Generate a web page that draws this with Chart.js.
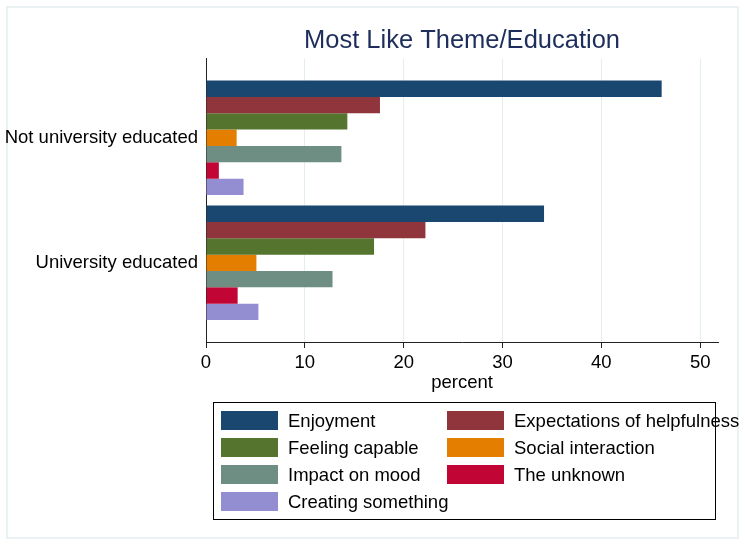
<!DOCTYPE html>
<html>
<head>
<meta charset="utf-8">
<script src="https://cdn.jsdelivr.net/npm/chart.js@4.4.1/dist/chart.umd.min.js"></script>
<style>
  html, body { margin: 0; padding: 0; background: #ffffff; }
  canvas { display: block; }
</style>
</head>
<body>
<canvas id="c" width="745" height="546"></canvas>
<script>
// ---- data ----
const categories = ["Not university educated", "University educated"];
const seriesNames = ["Enjoyment", "Expectations of helpfulness", "Feeling capable", "Social interaction", "Impact on mood", "The unknown", "Creating something"];
const enjoyment    = [46.1, 34.2];
const expectations = [17.6, 22.2];
const feeling      = [14.3, 17.0];
const social       = [3.1, 5.1];
const impact       = [13.7, 12.8];
const unknown      = [1.3, 3.2];
const creating     = [3.8, 5.3];
const xTicks = [0, 10, 20, 30, 40, 50];
const xLabel = "percent";
const titleText = "Most Like Theme/Education";

const seriesValues = [enjoyment, expectations, feeling, social, impact, unknown, creating];
const seriesColors = ["#1a476f", "#90353b", "#55752f", "#e37e00", "#6e8e84", "#c10534", "#938dd2"];

const FONT = "'Liberation Sans', Arial, Helvetica, sans-serif";
const LABEL_SIZE = 18.5;

const datasets = seriesNames.map((name, s) => ({
  label: name,
  data: seriesValues[s].map((v, i) => ({ x: v, y: i })),
  backgroundColor: seriesColors[s],
  borderWidth: 0,
  categoryPercentage: 0.915,
  barPercentage: 1.0
}));

const framePlugin = {
  id: 'frame',
  beforeDraw(chart) {
    const ctx = chart.ctx;
    ctx.save();
    ctx.fillStyle = '#ffffff';
    ctx.fillRect(0, 0, chart.width, chart.height);
    ctx.strokeStyle = '#e4edf0';
    ctx.lineWidth = 1.5;
    ctx.strokeRect(7, 7, chart.width - 14, chart.height - 15);
    ctx.restore();
  }
};

const legendPlugin = {
  id: 'boxLegend',
  afterDraw(chart) {
    const ctx = chart.ctx;
    const area = chart.chartArea;
    const boxL = area.left + 7, boxT = area.bottom + 60, boxR = area.left + 509, boxB = boxT + 117;
    ctx.save();
    ctx.strokeStyle = '#000000';
    ctx.lineWidth = 1;
    ctx.strokeRect(boxL + 0.5, boxT + 0.5, boxR - boxL, boxB - boxT);
    const colSwatch = [boxL + 8, boxL + 234];
    const swW = 57, swH = 19;
    const rowTop0 = boxT + 9, rowGap = 27;
    ctx.font = LABEL_SIZE + "px " + FONT;
    ctx.textBaseline = 'middle';
    ctx.textAlign = 'left';
    chart.data.datasets.forEach((ds, k) => {
      const col = k % 2, row = Math.floor(k / 2);
      const x = colSwatch[col];
      const y = rowTop0 + row * rowGap;
      ctx.fillStyle = ds.backgroundColor;
      ctx.fillRect(x, y, swW, swH);
      ctx.fillStyle = '#000000';
      ctx.fillText(ds.label, x + swW + 10, y + swH / 2 + 1);
    });
    ctx.restore();
  }
};

new Chart(document.getElementById('c'), {
  type: 'bar',
  data: { datasets },
  plugins: [framePlugin, legendPlugin],
  options: {
    indexAxis: 'y',
    responsive: false,
    animation: false,
    devicePixelRatio: 1,
    layout: { padding: { top: 0, right: 27, bottom: 144, left: 0 } },
    plugins: {
      legend: { display: false },
      tooltip: { enabled: false },
      title: {
        display: true,
        text: titleText,
        fullSize: false,
        color: '#1e2e5c',
        font: { family: FONT, size: 25.5, weight: 'normal' },
        padding: { top: 26, bottom: 2 }
      }
    },
    scales: {
      x: {
        type: 'linear',
        position: 'bottom',
        min: 0,
        max: 51.8,
        offset: false,
        afterBuildTicks(scale) { scale.ticks = xTicks.map(v => ({ value: v })); },
        afterFit(scale) { scale.height = 60; },
        grid: {
          display: true,
          drawOnChartArea: true,
          offset: false,
          color: '#e4edf0',
          lineWidth: 1,
          drawTicks: true,
          tickLength: 6,
          tickColor: '#222222'
        },
        border: { display: true, color: '#222222', width: 1 },
        ticks: {
          color: '#000000',
          font: { family: FONT, size: LABEL_SIZE },
          padding: 4,
          maxRotation: 0,
          autoSkip: false
        },
        title: {
          display: true,
          text: xLabel,
          color: '#000000',
          font: { family: FONT, size: LABEL_SIZE },
          padding: { top: 0, bottom: 8 }
        }
      },
      y: {
        type: 'linear',
        position: 'left',
        reverse: true,
        offset: false,
        min: -0.633,
        max: 1.633,
        afterBuildTicks(scale) { scale.ticks = categories.map((c, i) => ({ value: i })); },
        afterFit(scale) { scale.width = 206; },
        grid: { display: false, drawTicks: false, offset: false },
        border: { display: true, color: '#222222', width: 1 },
        ticks: {
          color: '#000000',
          font: { family: FONT, size: LABEL_SIZE },
          padding: 8,
          autoSkip: false,
          callback: (v) => categories[v] !== undefined ? categories[v] : ''
        }
      }
    }
  }
});
</script>
</body>
</html>
